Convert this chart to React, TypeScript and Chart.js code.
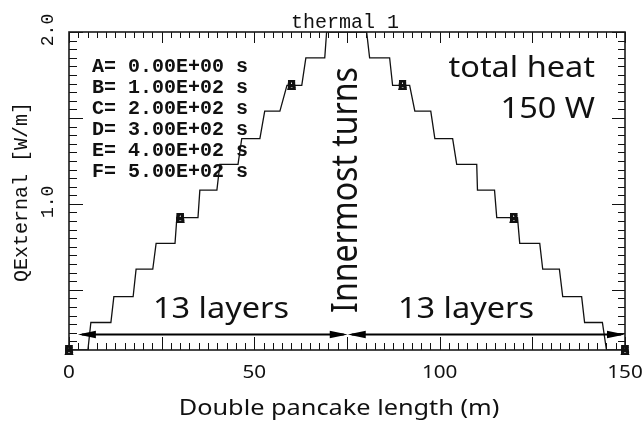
import React, { useEffect, useRef } from "react";
import { Chart, registerables } from "chart.js";
Chart.register(...registerables);

// ---- data ----
// vertices of the step curve: x = double pancake length (m), y = QExternal (W/m)
const stepX = [
  0, 5.1, 5.9, 11.3, 12.1, 17.3, 18.1, 22.6, 23.5, 28.6, 29.1, 34.8, 35.3, 39.9,
  40.7, 45.6, 46.6, 51.5, 52.8, 56.9, 58.8, 62.8, 63.9, 69.0, 69.5, 80.3,
  81.1, 86.5, 87.3, 91.9, 93.3, 97.6, 98.7, 103.5, 104.6, 110.0, 110.2, 114.8,
  115.4, 121.0, 121.6, 127.0, 127.8, 132.3, 133.2, 138.3, 139.1, 143.9, 145.0, 150,
];
const stepY = [
  0.15, 0.15, 0.31, 0.31, 0.46, 0.46, 0.62, 0.62, 0.77, 0.77, 0.92, 0.92, 1.08, 1.08,
  1.23, 1.23, 1.38, 1.38, 1.54, 1.54, 1.69, 1.69, 1.85, 1.85, 2.0, 2.0,
  1.85, 1.85, 1.69, 1.69, 1.54, 1.54, 1.38, 1.38, 1.23, 1.23, 1.08, 1.08,
  0.92, 0.92, 0.77, 0.77, 0.62, 0.62, 0.46, 0.46, 0.31, 0.31, 0.15, 0.15,
];
// symbol positions (all six curves coincide)
const markerX = [0, 30, 60, 90, 120, 150];
const markerY = [0.15, 0.92, 1.69, 1.69, 0.92, 0.15];
const seriesLetters = ["A", "B", "C", "D", "E", "F"];
const seriesTimes = ["0.00E+00", "1.00E+02", "2.00E+02", "3.00E+02", "4.00E+02", "5.00E+02"];

const xTickLabels = [0, 50, 100, 150];
const yTickLabels = [1.0, 2.0];

// "13 layers" arrows (m)
const arrowFrom = [2.4, 75.2];
const arrowTo = [75.2, 150];
const arrowLevel = 0.24;

const X_MIN = 0, X_MAX = 150, Y_MIN = 0.15, Y_MAX = 2.0;

const MONO = '"Liberation Mono", "Courier New", monospace';
const SANS = '"Noto Sans", "Open Sans", sans-serif';

function txt(
  ctx: CanvasRenderingContext2D, s: string, x: number, y: number, font: string,
  align: CanvasTextAlign, baseline: CanvasTextBaseline, sx = 1, rot = 0
) {
  ctx.save();
  ctx.translate(x, y);
  ctx.scale(sx, 1);
  if (rot) ctx.rotate(rot);
  ctx.font = font;
  ctx.textAlign = align;
  ctx.textBaseline = baseline;
  ctx.fillStyle = "#111";
  ctx.fillText(s, 0, 0);
  ctx.restore();
}

const decor = {
  id: "decor",
  afterDatasetsDraw(chart: any) {
    const { ctx, chartArea } = chart;
    const { left, right, top, bottom } = chartArea;
    const xs = chart.scales.x, ys = chart.scales.y;
    ctx.save();

    // ticks (inside) on all four sides
    ctx.strokeStyle = "#111";
    ctx.lineWidth = 1;
    ctx.beginPath();
    for (let i = 0; i <= 60; i++) {
      const v = i * 2.5;
      const px = Math.round(xs.getPixelForValue(v)) + 0.5;
      const major = i % 10 === 0;
      ctx.moveTo(px, bottom);
      ctx.lineTo(px, bottom - (major ? 13 : 7));
      ctx.moveTo(px, top);
      ctx.lineTo(px, top + (major ? 11 : 6));
    }
    for (let i = 4; i <= 40; i++) {
      const v = i * 0.05;
      const py = Math.round(ys.getPixelForValue(v)) + 0.5;
      const major = i % 10 === 0;
      ctx.moveTo(left, py);
      ctx.lineTo(left + (major ? 14 : 8), py);
      ctx.moveTo(right, py);
      ctx.lineTo(right - (major ? 13 : 7), py);
    }
    ctx.stroke();

    // frame
    ctx.lineWidth = 1.6;
    ctx.strokeStyle = "#1a1a1a";
    ctx.strokeRect(left, top, right - left, bottom - top);

    // arrows
    const ay = ys.getPixelForValue(arrowLevel);
    ctx.fillStyle = "#000";
    ctx.strokeStyle = "#000";
    ctx.lineWidth = 2;
    for (let i = 0; i < arrowFrom.length; i++) {
      const x1 = xs.getPixelForValue(arrowFrom[i]);
      const x2 = xs.getPixelForValue(arrowTo[i]);
      ctx.beginPath();
      ctx.moveTo(x1 + 4, ay);
      ctx.lineTo(x2 - 4, ay);
      ctx.stroke();
      const hl = 18, hw = 3.8;
      ctx.beginPath();
      ctx.moveTo(x1, ay);
      ctx.lineTo(x1 + hl, ay - hw);
      ctx.lineTo(x1 + hl, ay + hw);
      ctx.closePath();
      ctx.fill();
      ctx.beginPath();
      ctx.moveTo(x2, ay);
      ctx.lineTo(x2 - hl, ay - hw);
      ctx.lineTo(x2 - hl, ay + hw);
      ctx.closePath();
      ctx.fill();
    }

    // markers: letters A-F overlapping
    const meta = chart.getDatasetMeta(1);
    meta.data.forEach((pt: any) => {
      for (const L of seriesLetters) {
        txt(ctx, L, pt.x, pt.y + 5, `bold 15px ${MONO}`, "center", "alphabetic");
      }
    });

    // title
    txt(ctx, "thermal 1", 345, 28, `20px ${MONO}`, "center", "alphabetic");

    // series legend
    const rowBase = [72, 93, 114, 135, 156, 177];
    seriesLetters.forEach((L, i) => {
      txt(ctx, `${L}= ${seriesTimes[i]} s`, 92, rowBase[i], `bold 20px ${MONO}`, "left", "alphabetic");
    });

    // y axis
    yTickLabels.forEach((v) => {
      const py = ys.getPixelForValue(v);
      txt(ctx, v.toFixed(1), 48, py - 2, `18px ${MONO}`, "center", "middle", 1, -Math.PI / 2);
    });
    txt(ctx, "QExternal [W/m]", 22, 192, `20px ${MONO}`, "center", "middle", 1, -Math.PI / 2);

    // x axis
    xTickLabels.forEach((v) => {
      const px = xs.getPixelForValue(v);
      txt(ctx, String(v), px, 373, `18px ${SANS}`, "center", "middle", 1.15);
    });
    txt(ctx, "Double pancake length (m)", 339, 415, `22px ${SANS}`, "center", "alphabetic", 1.15);

    // annotations
    txt(ctx, "total heat", 595, 77, `29px ${SANS}`, "right", "alphabetic", 1.12);
    txt(ctx, "150 W", 595, 118, `29px ${SANS}`, "right", "alphabetic", 1.12);
    txt(ctx, "13 layers", 221, 318, `29px ${SANS}`, "center", "alphabetic", 1.12);
    txt(ctx, "13 layers", 466, 318, `29px ${SANS}`, "center", "alphabetic", 1.12);
    txt(ctx, "Innermost turns", 357, 190, `32px ${SANS}`, "center", "alphabetic", 1.12, -Math.PI / 2);

    ctx.restore();
  },
};

export default function App() {
  const ref = useRef<HTMLCanvasElement | null>(null);
  useEffect(() => {
    if (!ref.current) return;
    const chart = new Chart(ref.current, {
      type: "line",
      data: {
        datasets: [
          {
            data: stepX.map((x, i) => ({ x, y: stepY[i] })),
            borderColor: "#111",
            borderWidth: 1.3,
            pointRadius: 0,
            tension: 0,
            fill: false,
          },
          {
            data: markerX.map((x, i) => ({ x, y: markerY[i] })),
            showLine: false,
            pointRadius: 0,
            borderWidth: 0,
          },
        ],
      },
      options: {
        animation: false,
        responsive: false,
        maintainAspectRatio: false,
        events: [],
        layout: { padding: { left: 69, right: 17, top: 32, bottom: 71 } },
        scales: {
          x: { type: "linear", min: X_MIN, max: X_MAX, display: false },
          y: { type: "linear", min: Y_MIN, max: Y_MAX, display: false },
        },
        plugins: {
          legend: { display: false },
          tooltip: { enabled: false },
          title: { display: false },
        },
      },
      plugins: [decor],
    } as any);
    return () => chart.destroy();
  }, []);
  return (
    <div style={{ position: "absolute", left: 0, top: 0, width: 642, height: 421, background: "#fff" }}>
      <canvas ref={ref} width={642} height={421} style={{ display: "block", width: 642, height: 421 }} />
    </div>
  );
}
